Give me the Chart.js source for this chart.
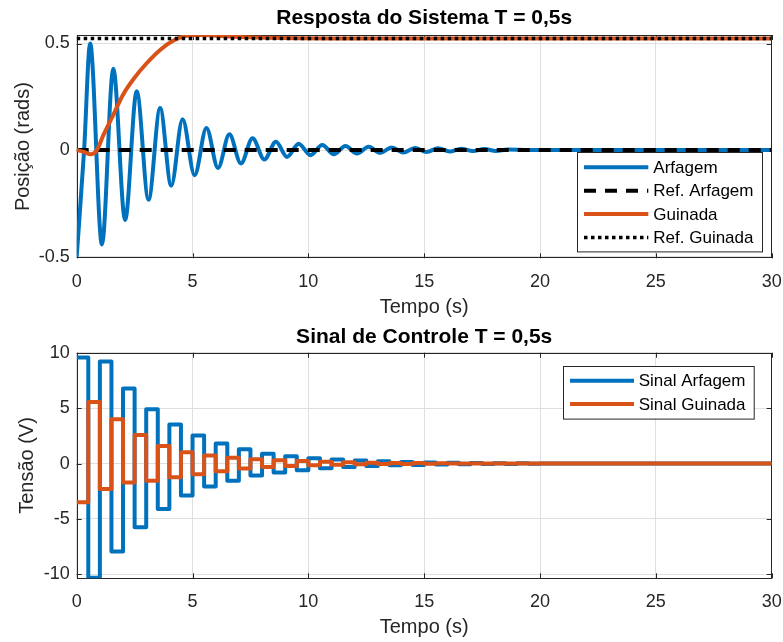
<!DOCTYPE html>
<html lang="pt-BR">
<head>
<meta charset="utf-8">
<title>Resposta do Sistema T = 0,5s</title>
<script src="https://cdn.jsdelivr.net/npm/chart.js@4.4.1/dist/chart.umd.min.js"></script>
<style>
  html, body { margin: 0; padding: 0; background: #fff; }
  canvas { position: absolute; left: 0; }
  #superior { top: 0; }
  #inferior { top: 320px; }
</style>
</head>
<body>
<canvas id="superior" width="783" height="320"></canvas>
<canvas id="inferior" width="783" height="322"></canvas>
<script>
// Período de amostragem e eixo do tempo
const T = 0.5;
const xTicks = [0, 5, 10, 15, 20, 25, 30];

// Resposta do sistema (picos e vales)
const tempoArfagem = [0, 0.32, 0.58, 1.09, 1.58, 2.09, 2.59, 3.1, 3.6, 4.08, 4.57, 5.09, 5.6, 6.1, 6.59, 7.09, 7.59,
  8.1, 8.6, 9.08, 9.58, 10.09, 10.6, 11.1, 11.6, 12.1, 12.6, 13.1, 13.6, 14.1, 14.6, 15.1, 15.6, 16.1, 16.6,
  17.1, 17.6, 18.1, 18.6, 19.5, 30];
const posArfagem = [-0.5, 0, 0.5, -0.443, 0.382, -0.328, 0.276, -0.233, 0.197, -0.167, 0.145, -0.118, 0.103, -0.084,
  0.074, -0.063, 0.055, -0.044, 0.039, -0.032, 0.03, -0.024, 0.024, -0.02, 0.019, -0.016, 0.015, -0.013, 0.012,
  -0.011, 0.01, -0.009, 0.008, -0.007, 0.006, -0.005, 0.005, -0.004, 0.003, 0, 0];
const tempoGuinada = [0, 0.3, 0.6, 0.87, 1.15, 1.58, 2.0, 2.5, 3.0, 3.6, 4.2, 4.8, 5.4, 6.05, 6.77, 8.2, 11, 30];
const posGuinada = [0, -0.008, -0.02, 0, 0.07, 0.165, 0.26, 0.34, 0.405, 0.47, 0.515, 0.537, 0.54, 0.537, 0.532,
  0.527, 0.524, 0.5236];
const tempoRef = [0, 30];
const refArfagem = [0, 0];
const refGuinada = [0.5236, 0.5236];
const yTicksPos = [-0.5, 0, 0.5];

// Sinal de controle: um valor por período T, a partir de t = 0
const sinalArfagem = [9.56, -10.3, 9.2, -7.93, 6.77, -5.74, 4.89, -4.1, 3.52, -2.87, 2.52, -2.06, 1.82, -1.55,
  1.3, -1.08, 0.88, -0.8, 0.67, -0.6, 0.48, -0.42, 0.36, -0.3, 0.27, -0.22, 0.2, -0.16, 0.14, -0.12, 0.1, -0.08,
  0.07, -0.06, 0.05, -0.04, 0.03, -0.03, 0.02, -0.01, 0];
const sinalGuinada = [-3.48, 5.55, -2.3, 4.0, -1.7, 2.57, -1.55, 1.58, -1.24, 1.02, -0.96, 0.72, -0.7, 0.53,
  -0.45, 0.4, -0.3, 0.3, -0.22, 0.22, -0.15, 0.16, -0.1, 0.12, -0.07, 0.08, -0.05, 0.06, -0.03, 0.04, -0.02,
  0.02, 0, 0, 0, 0, 0, 0, 0, 0, 0];
const yTicksTensao = [-10, -5, 0, 5, 10];

const AZUL = '#0072BD';
const LARANJA = '#D95319';
const FONTE = '"Liberation Sans", Arial, Helvetica, sans-serif';

Chart.defaults.font.family = FONTE;
Chart.defaults.color = '#262626';

function pares(xs, ys) {
  return xs.map((x, i) => ({ x: x, y: ys[i] }));
}

// ZOH: cada valor vale até o próximo instante de amostragem
function degraus(valores) {
  const pts = valores.map((v, i) => ({ x: i * T, y: v }));
  pts.push({ x: 30, y: valores[valores.length - 1] });
  return pts;
}

// Caixa em volta da área do gráfico com marcas para dentro (estilo MATLAB)
const moldura = {
  id: 'moldura',
  beforeDatasetsDraw(chart) {
    const { ctx, chartArea: a, scales } = chart;
    const t = 5;
    ctx.save();
    ctx.strokeStyle = '#262626';
    ctx.lineWidth = 1;
    ctx.strokeRect(Math.round(a.left) + 0.5, Math.round(a.top) + 0.5,
      Math.round(a.width) - 1, Math.round(a.height) - 1);
    ctx.beginPath();
    scales.x.ticks.forEach(tk => {
      const px = Math.round(scales.x.getPixelForValue(tk.value)) + 0.5;
      ctx.moveTo(px, a.bottom); ctx.lineTo(px, a.bottom - t);
      ctx.moveTo(px, a.top); ctx.lineTo(px, a.top + t);
    });
    scales.y.ticks.forEach(tk => {
      const py = Math.round(scales.y.getPixelForValue(tk.value)) + 0.5;
      ctx.moveTo(a.left, py); ctx.lineTo(a.left + t, py);
      ctx.moveTo(a.right, py); ctx.lineTo(a.right - t, py);
    });
    ctx.stroke();
    ctx.restore();
  }
};

// Legenda desenhada dentro da área do gráfico
const legendaInterna = {
  id: 'legendaInterna',
  afterDatasetsDraw(chart, args, o) {
    const ctx = chart.ctx;
    ctx.save();
    ctx.fillStyle = '#fff';
    ctx.fillRect(o.x, o.y, o.w, o.h);
    ctx.strokeStyle = '#262626';
    ctx.lineWidth = 1;
    ctx.strokeRect(Math.round(o.x) + 0.5, Math.round(o.y) + 0.5, o.w, o.h);
    chart.data.datasets.forEach((ds, i) => {
      const cy = o.y + o.primeira + i * o.passo;
      ctx.beginPath();
      ctx.setLineDash(ds.borderDash || []);
      ctx.strokeStyle = ds.borderColor;
      ctx.lineWidth = ds.borderWidth;
      ctx.moveTo(o.x + o.linhaIni, cy);
      ctx.lineTo(o.x + o.linhaFim, cy);
      ctx.stroke();
      ctx.setLineDash([]);
      ctx.fillStyle = '#000';
      ctx.font = '17px ' + FONTE;
      ctx.textAlign = 'left';
      ctx.textBaseline = 'middle';
      ctx.fillText(ds.label, o.x + o.textoX, cy + 1);
    });
    ctx.restore();
  }
};

function opcoes(titulo, tituloPad, rotuloY, rotuloYPad, yMin, yMax, yTicks, xPadBaixo, alturaX, legenda) {
  return {
    responsive: false,
    animation: false,
    layout: { padding: { left: 0, right: 11.3, top: 0, bottom: 0 } },
    plugins: {
      legend: { display: false },
      tooltip: { enabled: false },
      title: {
        display: true,
        fullSize: false,
        text: titulo,
        color: '#000',
        font: { size: 21, weight: 'bold' },
        padding: tituloPad
      },
      legendaInterna: legenda
    },
    scales: {
      x: {
        type: 'linear',
        min: 0,
        max: 30,
        afterFit: s => { s.height = alturaX; s.paddingLeft = 0; s.paddingRight = 0; },
        afterBuildTicks: s => { s.ticks = xTicks.map(v => ({ value: v })); },
        grid: { color: '#dfdfdf', drawTicks: false },
        border: { display: false },
        ticks: { autoSkip: false, maxRotation: 0, padding: 13, font: { size: 18 }, callback: v => String(v) },
        title: { display: true, text: 'Tempo (s)', font: { size: 20 }, padding: { top: 0, bottom: xPadBaixo } }
      },
      y: {
        min: yMin,
        max: yMax,
        afterFit: s => { s.width = 76.7; s.paddingTop = 0; s.paddingBottom = 0; },
        afterBuildTicks: s => { s.ticks = yTicks.map(v => ({ value: v })); },
        grid: { color: '#dfdfdf', drawTicks: false },
        border: { display: false },
        ticks: { autoSkip: false, padding: 7, font: { size: 18 }, callback: v => String(v) },
        title: { display: true, text: rotuloY, font: { size: 20 }, padding: { top: rotuloYPad, bottom: 0 } }
      }
    }
  };
}

new Chart(document.getElementById('superior'), {
  type: 'line',
  data: {
    datasets: [
      { label: 'Arfagem', data: pares(tempoArfagem, posArfagem), borderColor: AZUL, borderWidth: 4,
        cubicInterpolationMode: 'monotone', pointRadius: 0, order: 4 },
      { label: 'Ref. Arfagem', data: pares(tempoRef, refArfagem), borderColor: '#000', borderWidth: 4,
        borderDash: [12, 9], pointRadius: 0, order: 3 },
      { label: 'Guinada', data: pares(tempoGuinada, posGuinada), borderColor: LARANJA, borderWidth: 4,
        cubicInterpolationMode: 'monotone', pointRadius: 0, order: 2 },
      { label: 'Ref. Guinada', data: pares(tempoRef, refGuinada), borderColor: '#000', borderWidth: 3.5,
        borderDash: [3.5, 3.5], pointRadius: 0, order: 1 }
    ]
  },
  options: opcoes('Resposta do Sistema T = 0,5s', { top: 5.5, bottom: 4.3 }, 'Posição (rads)', 11,
    -0.508, 0.54, yTicksPos, 1, 61.7,
    { x: 577.3, y: 152.3, w: 185, h: 99.4, primeira: 15, passo: 23.4, linhaIni: 6.7, linhaFim: 71, textoX: 76 }),
  plugins: [moldura, legendaInterna]
});

new Chart(document.getElementById('inferior'), {
  type: 'line',
  data: {
    datasets: [
      { label: 'Sinal Arfagem', data: degraus(sinalArfagem), borderColor: AZUL, borderWidth: 4,
        stepped: true, borderJoinStyle: 'round', pointRadius: 0, order: 2 },
      { label: 'Sinal Guinada', data: degraus(sinalGuinada), borderColor: LARANJA, borderWidth: 4,
        stepped: true, borderJoinStyle: 'round', pointRadius: 0, order: 1 }
    ]
  },
  options: opcoes('Sinal de Controle T = 0,5s', { top: 5, bottom: 2.5 }, 'Tensão (V)', 15,
    -10.35, 10, yTicksTensao, 3, 63.7,
    { x: 563.3, y: 45.7, w: 190.7, h: 52.6, primeira: 15, passo: 23.3, linhaIni: 6.7, linhaFim: 70.7, textoX: 75.4 }),
  plugins: [moldura, legendaInterna]
});
</script>
</body>
</html>
